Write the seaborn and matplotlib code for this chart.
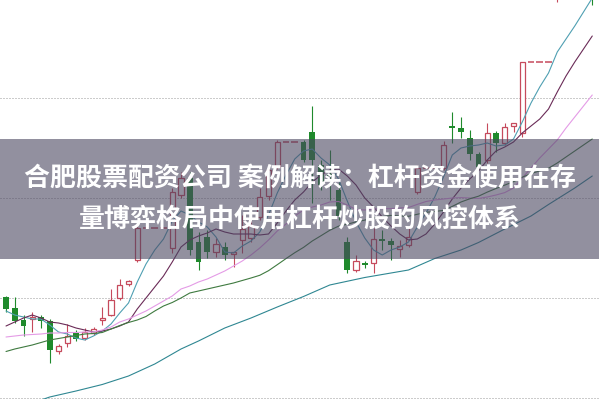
import numpy as np
import pandas as pd
import matplotlib
matplotlib.use("Agg")
import matplotlib.pyplot as plt
import seaborn as sns
from matplotlib.patches import Rectangle

# ---------------- data (prices) ----------------
opens = [10.1, 9.0, 7.8, 7.9, 8.1, 7.7, 4.7, 5.5, 6.5, 6.0,
         6.5, 7.8, 8.3, 10.0, 11.4, 13.8, 17.0, 17.0, 17.0, 15.0,
         20.3, 22.0, 15.6, 16.1, 14.6, 15.1, 14.4, 15.8, 16.0, 18.1,
         20.2, 23.1, 25.6, 25.6, 25.6, 26.6, 23.3, 22.4, 20.8, 15.6,
         12.8, 13.5, 13.5, 15.9, 15.7, 14.9, 15.3, 20.6, 23.0, 23.0,
         23.0, 27.2, 27.0, 26.0, 24.4, 23.8, 26.5, 25.5, 27.2, 26.5,
         33.6, 33.6, 33.6, 40.3, 44.0, 46.0, 48.0, 45.8]
closes = [8.9, 7.7, 7.2, 8.1, 7.7, 4.8, 5.2, 6.2, 5.9, 6.6,
          6.9, 8.0, 9.8, 11.3, 11.7, 17.0, 17.0, 17.0, 17.0, 20.6,
          22.0, 14.8, 13.6, 14.6, 15.4, 14.3, 14.6, 16.9, 17.2, 20.1,
          22.8, 25.6, 25.6, 25.6, 23.8, 23.8, 21.3, 22.2, 18.2, 12.8,
          13.7, 13.3, 15.9, 15.7, 15.3, 15.2, 16.1, 23.0, 23.0, 23.0,
          25.3, 27.0, 26.6, 24.4, 23.1, 26.5, 25.5, 27.1, 27.5, 33.6,
          33.6, 33.6, 33.6, 43.8, 46.0, 48.0, 50.0, 40.0]
highs = [10.2, 10.1, 8.3, 8.6, 8.3, 7.9, 5.4, 7.4, 6.8, 7.0,
         7.1, 9.1, 10.9, 11.9, 11.8, 17.2, 17.0, 17.0, 17.0, 21.0,
         22.6, 22.6, 16.6, 16.8, 16.0, 15.6, 14.6, 18.3, 17.8, 21.0,
         23.3, 25.8, 25.6, 25.6, 25.8, 29.2, 23.8, 24.8, 21.6, 16.1,
         14.3, 13.7, 17.0, 16.8, 16.0, 15.8, 17.2, 23.3, 23.0, 23.0,
         25.7, 28.6, 28.1, 26.8, 24.6, 27.5, 26.7, 27.5, 27.5, 33.6,
         33.6, 33.6, 33.6, 44.3, 46.5, 48.5, 50.5, 46.2]
lows = [8.6, 7.5, 6.2, 6.6, 7.0, 3.5, 4.4, 5.1, 5.7, 5.8,
        6.3, 7.3, 8.2, 9.8, 11.2, 13.6, 17.0, 17.0, 17.0, 14.5,
        20.0, 14.3, 12.8, 14.0, 14.1, 13.8, 13.1, 14.5, 15.6, 17.8,
        19.8, 22.9, 25.6, 25.6, 23.6, 19.5, 20.8, 19.8, 17.8, 12.5,
        12.6, 13.0, 12.5, 14.8, 13.8, 14.1, 15.1, 20.4, 23.0, 23.0,
        22.8, 25.5, 26.0, 23.8, 23.0, 23.5, 24.6, 25.3, 26.6, 26.1,
        33.6, 33.6, 33.6, 39.6, 43.5, 45.5, 47.5, 39.3]

ma5 = [8.7, 8.3, 8.1, 7.9, 7.9, 7.3, 6.6, 6.4, 6.0, 5.8,
       6.2, 6.7, 7.4, 8.5, 9.5, 11.6, 13.4, 14.8, 15.9, 17.7,
       18.7, 18.3, 17.6, 17.1, 16.1, 14.6, 14.5, 15.2, 15.7, 16.6,
       18.3, 20.5, 22.3, 23.9, 24.7, 24.9, 24.0, 23.3, 21.9, 19.7,
       17.6, 16.0, 14.8, 14.3, 14.8, 15.1, 15.6, 17.1, 18.5, 20.1,
       22.1, 24.3, 25.0, 25.2, 25.3, 25.5, 25.2, 25.3, 25.9, 27.6,
       29.5, 31.1, 32.5, 34.6, 35.9, 37.2, 38.6, 40.0]
ma10 = [7.2, 7.6, 8.0, 8.3, 8.0, 7.6, 7.5, 7.3, 7.0, 6.8,
        6.6, 6.7, 6.9, 7.2, 7.6, 8.9, 10.0, 11.1, 12.2, 13.6,
        15.1, 15.8, 16.2, 16.5, 16.9, 16.6, 16.4, 16.4, 16.4, 16.3,
        16.4, 17.5, 18.7, 19.8, 20.6, 21.6, 22.3, 22.8, 22.9, 22.2,
        21.3, 20.0, 19.1, 18.1, 17.2, 16.4, 15.8, 15.9, 16.4, 17.4,
        18.6, 19.9, 21.0, 21.9, 22.7, 23.8, 24.7, 25.1, 25.6, 26.5,
        27.2, 27.9, 28.9, 30.6, 32.2, 33.6, 34.9, 36.2]
ma20 = [6.1, 6.2, 6.3, 6.35, 6.4, 6.5, 6.5, 6.55, 6.55, 6.6,
        6.6, 6.8, 7.1, 7.6, 7.9, 8.3, 8.7, 9.2, 9.7, 10.2,
        10.9, 11.2, 11.6, 11.9, 12.3, 12.7, 13.2, 13.7, 14.3, 15.0,
        15.8, 16.7, 17.4, 18.2, 18.8, 19.1, 19.3, 19.6, 19.65, 19.3,
        18.85, 18.8, 18.9, 18.94, 18.94, 19.0, 19.05, 19.36, 19.65, 19.8,
        19.9, 20.0, 20.04, 20.0, 19.95, 20.1, 20.3, 20.54, 21.0, 22.0,
        23.0, 24.0, 24.9, 25.8, 27.0, 28.1, 29.2, 30.3]
ma30 = [4.65, 4.9, 5.1, 5.3, 5.55, 5.8, 5.95, 6.1, 6.25, 6.4,
        6.45, 6.55, 6.9, 7.25, 7.55, 7.8, 8.15, 8.7, 9.2, 9.55,
        10.0, 10.5, 10.7, 10.9, 11.1, 11.3, 11.5, 11.75, 12.0, 12.27,
        12.73, 13.33, 13.94, 14.53, 15.06, 15.7, 16.23, 16.77, 17.18, 17.38,
        17.61, 17.79, 17.99, 18.14, 18.26, 18.2, 18.17, 18.37, 18.57, 18.65,
        18.76, 19.16, 19.6, 19.92, 20.18, 20.59, 20.95, 21.29, 21.63, 22.08,
        22.44, 22.71, 22.98, 23.5, 24.1, 24.7, 25.3, 25.9]
ma60_idx = [4, 5, 8, 11, 14, 17, 20, 22, 25, 28, 31, 34, 37, 41, 46,
            49, 52, 54, 57, 60, 62, 65, 67]
ma60 = [-0.2, 0.1, 0.7, 1.35, 2.2, 3.4, 4.9, 5.7, 7.0, 8.0, 9.1, 10.15,
        11.3, 12.05, 12.8, 13.95, 14.8, 15.55, 16.9, 18.2, 19.35, 21.0, 22.2]

grid_levels = [30, 20, 10, 0]
title_lines = ["合肥股票配资公司 案例解读：杠杆资金使用在存",
               "量博弈格局中使用杠杆炒股的风控体系"]

# ---------------- style ----------------
sns.set_theme(style="white")
plt.rcParams['font.family'] = ['Noto Sans CJK SC', 'DejaVu Sans']

W, H = 599, 399
fig = plt.figure(figsize=(W / 100, H / 100), dpi=100)
fig.patch.set_facecolor('white')
ax = fig.add_axes([0, 0, 1, 1])
ax.set_facecolor('white')

RED = '#c64a5c'
GREEN = '#1f8a2c'
PAL = {'MA5': '#4f9fb2', 'MA10': '#6a2b57', 'MA20': '#e49be6',
       'MA30': '#3f7a40', 'MA60': '#2f8792'}

for g in grid_levels:
    ax.axhline(g, color='#9a9a9a', lw=0.72, linestyle=(0, (1, 2)), zorder=1)

idx = np.arange(len(opens))
o = np.array(opens); c = np.array(closes)
h = np.array(highs); l = np.array(lows)
flat = (h == l)
up = (c >= o) & ~flat
down = (c < o) & ~flat

# wicks
ax.vlines(idx[up], l[up], h[up], color=RED, lw=0.8, zorder=2)
ax.vlines(idx[down], l[down], h[down], color=GREEN, lw=0.8, zorder=2)
# bodies
ax.bar(idx[up], (c - o)[up], bottom=o[up], width=0.6, facecolor='white',
       edgecolor=RED, linewidth=0.9, zorder=2.5)
ax.bar(idx[down], (o - c)[down], bottom=c[down], width=0.68, color=GREEN,
       linewidth=0, zorder=2.5)
ax.hlines(o[flat], idx[flat] - 0.38, idx[flat] + 0.38, color=RED, lw=1.1, zorder=2.5)

# moving-average lines
n = len(ma5)
df = pd.concat([
    pd.DataFrame({'idx': np.arange(n), 'value': ma5, 'line': 'MA5'}),
    pd.DataFrame({'idx': np.arange(n), 'value': ma10, 'line': 'MA10'}),
    pd.DataFrame({'idx': np.arange(n), 'value': ma20, 'line': 'MA20'}),
    pd.DataFrame({'idx': np.arange(n), 'value': ma30, 'line': 'MA30'}),
    pd.DataFrame({'idx': ma60_idx, 'value': ma60, 'line': 'MA60'}),
], ignore_index=True)
sns.lineplot(data=df, x='idx', y='value', hue='line', palette=PAL,
             legend=False, linewidth=0.8, estimator=None, sort=False,
             ax=ax, zorder=3)

ax.set_xlim(-0.686, 67.77)
ax.set_ylim(-0.1, 39.8)
ax.axis('off')

# banner overlay
ax.add_patch(Rectangle((0, (H - 259) / H), 1, 120 / H, transform=ax.transAxes,
                       facecolor='#4a4660', alpha=0.6, edgecolor='none', zorder=10))
ax.text(0.5, 1 - 179 / H, title_lines[0], transform=ax.transAxes, ha='center',
        va='center', color='white', fontsize=18.7, fontweight='bold', zorder=11)
ax.text(0.5, 1 - 220 / H, title_lines[1], transform=ax.transAxes, ha='center',
        va='center', color='white', fontsize=18.7, fontweight='bold', zorder=11)

fig.savefig('out.png', dpi=100)
